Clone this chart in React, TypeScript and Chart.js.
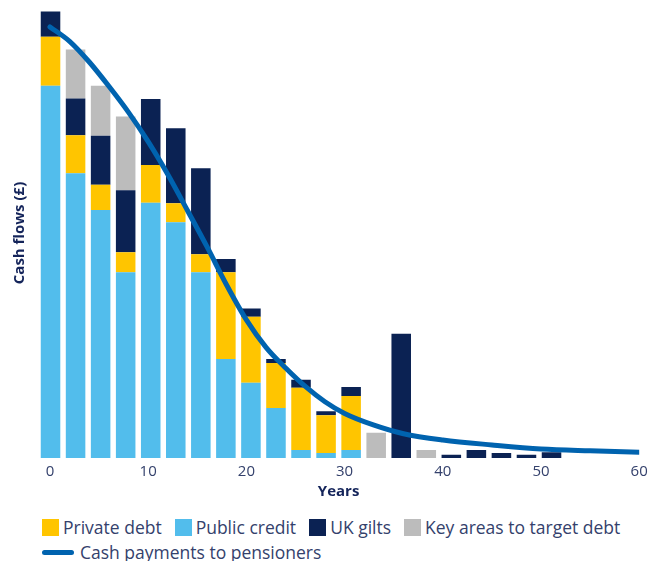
import React, { useEffect, useRef } from 'react';
import { Chart, registerables } from 'chart.js';

Chart.register(...registerables);

// Bar categories: 2.5-year buckets (last three buckets empty)
const barCategories = [
  '0', '2.5', '5', '7.5', '10', '12.5', '15', '17.5', '20', '22.5', '25', '27.5',
  '30', '32.5', '35', '37.5', '40', '42.5', '45', '47.5', '50', '52.5', '55', '57.5',
];

const publicCredit = [82.7, 63.3, 55.1, 41.3, 56.7, 52.4, 41.3, 22.0, 16.7, 11.1, 1.8, 1.1, 1.8, 0, 0, 0, 0, 0, 0, 0, 0];
const privateDebt = [10.9, 8.4, 5.6, 4.4, 8.4, 4.2, 4.0, 19.3, 14.7, 10.0, 13.8, 8.4, 12.0, 0, 0, 0, 0, 0, 0, 0, 0];
const ukGilts = [5.6, 8.2, 10.9, 13.8, 14.7, 16.7, 19.1, 2.9, 1.8, 0.9, 1.8, 0.9, 2.0, 0, 27.6, 0, 0.7, 1.8, 1.1, 0.7, 1.3];
const keyAreas = [0, 10.9, 11.1, 16.4, 0, 0, 0, 0, 0, 0, 0, 0, 0, 5.6, 0, 1.8, 0, 0, 0, 0, 0];

const paymentYears = [0, 2, 4, 6, 8, 10, 12, 14, 16, 18, 20, 22, 24, 26, 28, 30, 33, 36, 40, 45, 50, 55, 60];
const paymentValues = [95.8, 92.6, 88.0, 82.6, 76.8, 70.3, 63.0, 55.0, 46.9, 38.4, 30.7, 24.6, 20.0, 15.9, 12.5, 9.9, 7.3, 5.4, 4.0, 2.9, 2.0, 1.6, 1.3];

const yearTicks = [0, 10, 20, 30, 40, 50, 60];

const YELLOW = '#FFC500';
const BLUE = '#52BDEC';
const NAVY = '#0B2253';
const GREY = '#BCBCBC';
const LINE = '#0063AF';
const TEXT = '#34416C';
const TITLE = '#14245A';
const FONT = '"Open Sans", sans-serif';

const legendBoxes = [
  { label: 'Private debt', color: YELLOW },
  { label: 'Public credit', color: BLUE },
  { label: 'UK gilts', color: NAVY },
  { label: 'Key areas to target debt', color: GREY },
];
const lineLegendLabel = 'Cash payments to pensioners';

export default function App() {
  const ref = useRef<HTMLCanvasElement>(null);

  useEffect(() => {
    if (!ref.current) return;
    const barCommon = { xAxisID: 'xb', yAxisID: 'y', stack: 'bars', grouped: false, barPercentage: 0.78, categoryPercentage: 1 };
    const chart = new Chart(ref.current, {
      type: 'bar',
      data: {
        labels: barCategories,
        datasets: [
          {
            type: 'line',
            label: lineLegendLabel,
            data: paymentYears.map((x, i) => ({ x, y: paymentValues[i] })),
            xAxisID: 'x',
            yAxisID: 'y',
            borderColor: LINE,
            borderWidth: 5,
            pointRadius: 0,
            cubicInterpolationMode: 'monotone',
            borderCapStyle: 'round',
            fill: false,
            stack: 'line',
          } as any,
          { label: 'Public credit', data: publicCredit, backgroundColor: BLUE, ...barCommon } as any,
          { label: 'Private debt', data: privateDebt, backgroundColor: YELLOW, ...barCommon } as any,
          { label: 'UK gilts', data: ukGilts, backgroundColor: NAVY, ...barCommon } as any,
          { label: 'Key areas to target debt', data: keyAreas, backgroundColor: GREY, ...barCommon } as any,
        ],
      },
      options: {
        animation: false,
        responsive: false,
        maintainAspectRatio: false,
        layout: { padding: { top: 8, right: 26.8, left: 0, bottom: 0 } },
        plugins: { legend: { display: false }, tooltip: { enabled: false } },
        scales: {
          xb: { type: 'category', display: false, stacked: true, offset: true },
          x: {
            type: 'linear',
            position: 'bottom',
            offset: false,
            min: -1.22,
            max: 60,
            grid: { display: false, drawTicks: false, offset: false },
            border: { display: false },
            afterBuildTicks: (axis: any) => {
              axis.ticks = yearTicks.map((v) => ({ value: v }));
            },
            ticks: {
              includeBounds: false,
              padding: 5,
              color: TEXT,
              font: { family: FONT, size: 15 },
              maxRotation: 0,
            },
            title: {
              display: true,
              text: 'Years',
              color: TITLE,
              font: { family: FONT, size: 15, weight: 'bold' },
              padding: { top: 0, bottom: 4 },
            },
            afterFit: (s: any) => {
              s.height = 47;
            },
          },
          y: {
            min: 0,
            max: 100,
            stacked: true,
            grid: { display: false },
            border: { display: false },
            ticks: { display: false },
            title: {
              display: true,
              text: 'Cash flows (£)',
              color: TITLE,
              font: { family: FONT, size: 15, weight: 'bold' },
              padding: { top: 11, bottom: 0 },
            },
            afterFit: (s: any) => {
              s.width = 38;
            },
          },
        } as any,
      },
    });
    return () => chart.destroy();
  }, []);

  return (
    <div style={{ position: 'absolute', left: 0, top: 0, width: 666, height: 561, background: '#fff', overflow: 'hidden' }}>
      <canvas ref={ref} width={666} height={505} style={{ display: 'block', width: 666, height: 505 }} />
      <div
        style={{
          position: 'absolute', left: 42, top: 517, display: 'flex', alignItems: 'center',
          fontFamily: FONT, fontSize: 17.5, color: TEXT, whiteSpace: 'nowrap', lineHeight: '21px',
        }}
      >
        {legendBoxes.map((it) => (
          <div key={it.label} style={{ display: 'flex', alignItems: 'center', marginRight: 13 }}>
            <span style={{ display: 'inline-block', width: 17, height: 17, background: it.color, marginRight: 4 }} />
            <span>{it.label}</span>
          </div>
        ))}
      </div>
      <div
        style={{
          position: 'absolute', left: 42, top: 542, display: 'flex', alignItems: 'center',
          fontFamily: FONT, fontSize: 17.5, color: TEXT, whiteSpace: 'nowrap', lineHeight: '21px',
        }}
      >
        <span style={{ display: 'inline-block', width: 32, height: 5, borderRadius: 3, background: LINE, marginRight: 6 }} />
        <span>{lineLegendLabel}</span>
      </div>
    </div>
  );
}
